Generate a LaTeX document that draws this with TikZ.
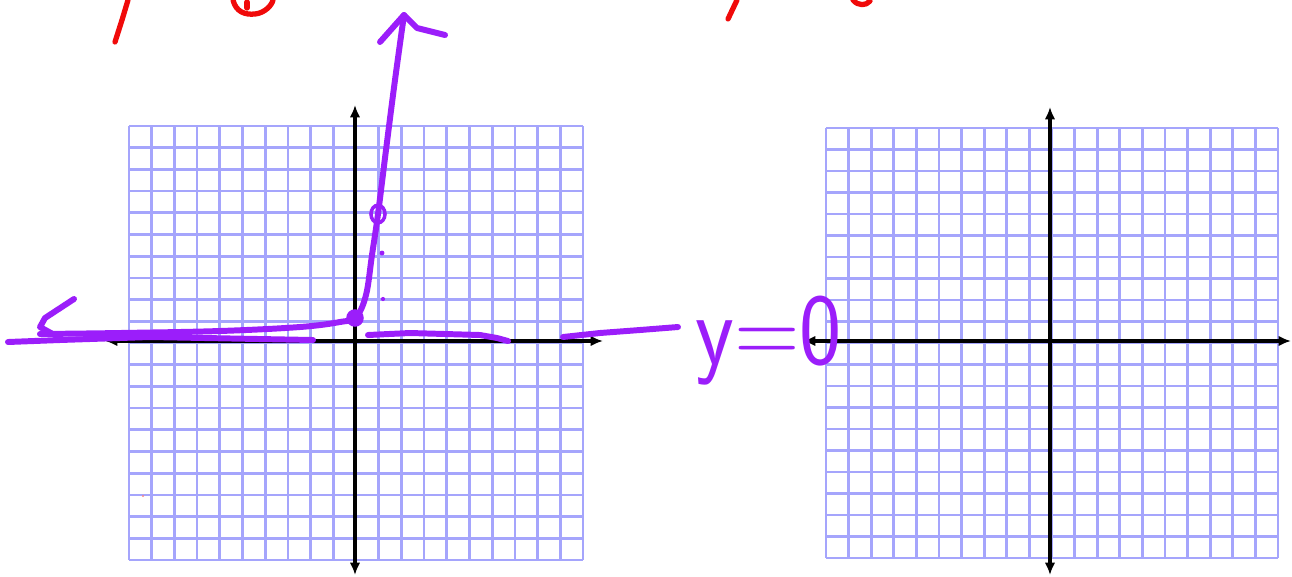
\documentclass[tikz,border=0pt]{standalone}
\usepackage{amsmath}
\usepackage{tikz}
\usepackage{xcolor}
\usetikzlibrary{arrows.meta}
\definecolor{gridblue}{RGB}{165,165,252}
\definecolor{penpurple}{RGB}{155,30,250}
\definecolor{penred}{RGB}{240,10,10}
\tikzset{
  gridline/.style={gridblue, line width=1.5pt},
  axisline/.style={black, line width=2pt, {Latex[length=7pt,width=6pt]}-{Latex[length=7pt,width=6pt]}},
  pen/.style={penpurple, line width=3.4pt, line cap=round, line join=round},
  redpen/.style={penred, line width=3pt, line cap=round, line join=round}
}

\begin{document}
\begin{tikzpicture}[x=0.02cm, y=-0.02cm]
\useasboundingbox (0,0) rectangle (1292,576);
% left grid
\foreach \i in {0,...,20} \draw[gridline] (129+22.7*\i,126) -- (129+22.7*\i,560);
\foreach \i in {0,...,20} \draw[gridline] (129,126+21.7*\i) -- (583,126+21.7*\i);
% right grid
\foreach \i in {0,...,20} \draw[gridline] (826+22.6*\i,128) -- (826+22.6*\i,558);
\foreach \i in {0,...,20} \draw[gridline] (826,128+21.5*\i) -- (1278,128+21.5*\i);
% axes
\coordinate (lxl) at (105,341); \coordinate (lxr) at (603,341);
\coordinate (lyt) at (355,105); \coordinate (lyb) at (355,575);
\coordinate (rxl) at (803,341); \coordinate (rxr) at (1291,341);
\coordinate (ryt) at (1050,107); \coordinate (ryb) at (1050,575);
\draw[axisline] (lxl) -- (lxr);
\draw[axisline] (lyt) -- (lyb);
\draw[axisline] (rxl) -- (rxr);
\draw[axisline] (ryt) -- (ryb);
% purple sketch
\draw[pen] (8,342) -- (60,340) -- (150,337) -- (313,340);
\draw[pen] (74,299) -- (45,318) -- (40,327) -- (60,338);
\draw[pen] plot[smooth, tension=0.6] coordinates {(40,334) (120,333) (220,331) (300,327) (340,322) (356,317) (366,295) (372,255) (378,214) (386,150) (395,80) (404,15)};
\draw[pen] (380,42) -- (404,15) -- (417,28) -- (445,35);
\coordinate (pt0) at (355,318);
\fill[penpurple] (pt0) circle (5pt);
\draw[penpurple, line width=2pt] (378,214) ellipse (4pt and 5pt);
\fill[penpurple] (382,253) circle (1.4pt);
\fill[penpurple] (383,299) circle (1.2pt);
\draw[pen] (368,335) -- (410,333) -- (480,335) -- (497,338) -- (508,341);
\draw[pen] (563,337) -- (600,333) -- (640,330) -- (678,327);
\node[text=penpurple, font=\sffamily\fontsize{58}{58}\selectfont, anchor=base west, inner sep=0pt, xscale=0.88] (yzero) at (695,364) {y=0};
% red fragments
\draw[redpen] (128,0) -- (122,20) -- (115,42);
\draw[redpen] (233,0) .. controls (236,12) and (245,15) .. (255,14) .. controls (265,13) and (272,5) .. (273,0);
\draw[redpen] (247,2) -- (247,8);
\draw[redpen] (737,0) -- (728,19);
\draw[redpen] (853,0) .. controls (858,6) and (866,6) .. (870,1);
\fill[penred!50] (143,496) circle (0.6pt);
\end{tikzpicture}
\end{document}
